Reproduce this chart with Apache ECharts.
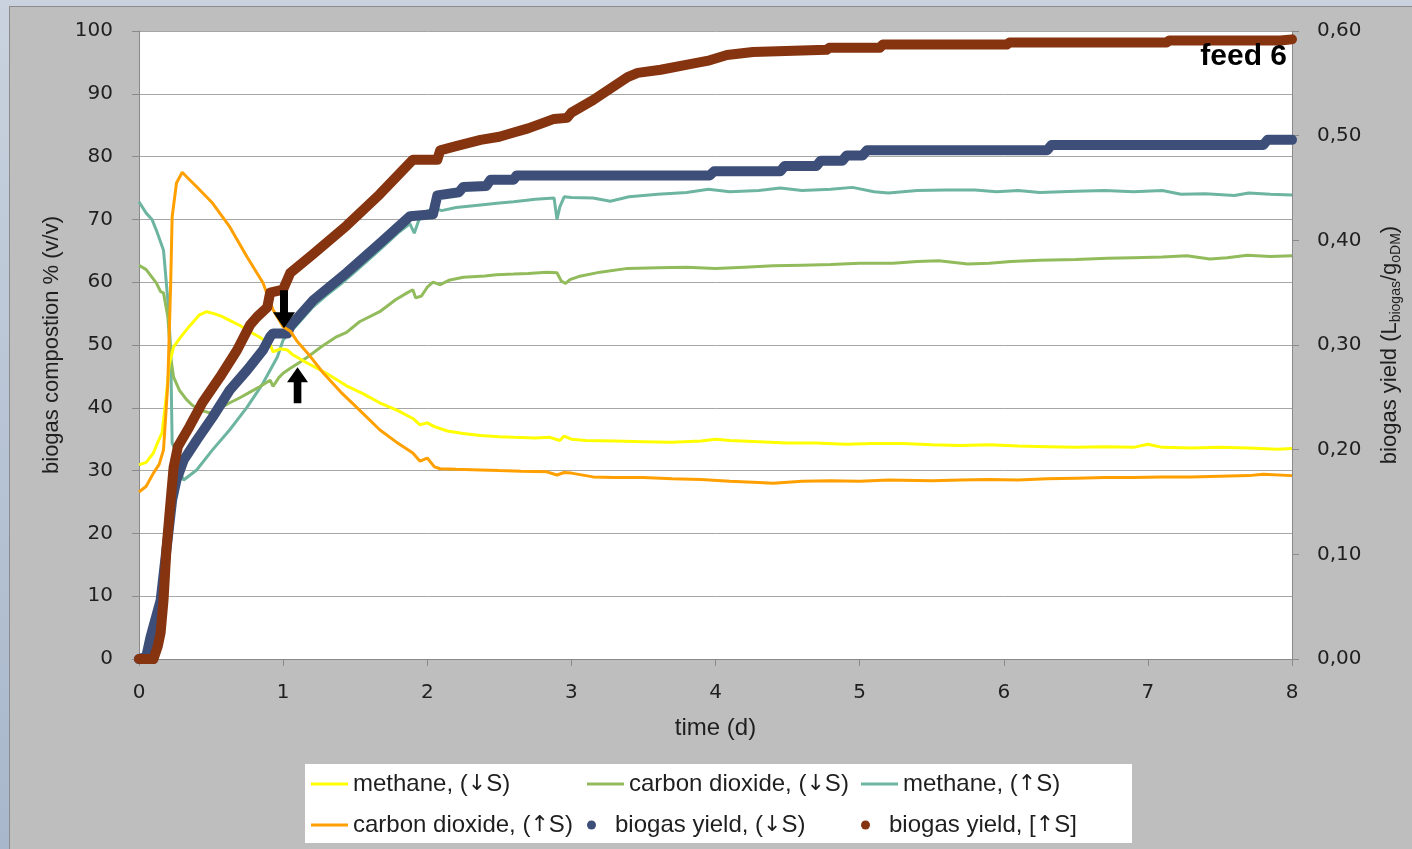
<!DOCTYPE html>
<html>
<head>
<meta charset="utf-8">
<script src="https://cdn.jsdelivr.net/npm/echarts@6/dist/echarts.min.js"></script>
<style>
  html, body { margin: 0; padding: 0; width: 1412px; height: 849px; overflow: hidden;
    background: linear-gradient(180deg, #c9d2de 0%, #b6c3d4 55%, #a8b7cb 100%); }
  #panel { position: absolute; left: 9px; top: 6px; right: 0; bottom: 0; background: #bebebe;
    border-left: 1px solid #8c8c8c; border-top: 1px solid #8c8c8c; }
  #chart { position: absolute; left: 0; top: 0; width: 1412px; height: 849px; }
</style>
</head>
<body>
<div id="panel"></div>
<div id="chart"></div>
<script>
// time (d) / value pairs for each measured series
const methaneDown = [[0,30.9],[0.05,31.3],[0.1,32.8],[0.13,34.5],[0.16,36],[0.19,42],[0.21,47],[0.24,49.7],[0.29,51.3],[0.35,53],
  [0.42,54.8],[0.47,55.3],[0.52,55],[0.57,54.6],[0.64,53.8],[0.7,53.1],[0.77,52.1],[0.84,51.2],[0.91,50.1],[0.93,48.9],
  [0.98,49.4],[1.03,49.2],[1.07,48.4],[1.17,47.1],[1.3,45.5],[1.44,43.5],[1.55,42.3],[1.67,40.8],[1.8,39.5],[1.9,38.3],
  [1.95,37.3],[2.0,37.6],[2.05,37.0],[2.14,36.3],[2.25,35.9],[2.37,35.6],[2.5,35.4],[2.6,35.3],[2.75,35.2],[2.85,35.3],
  [2.92,34.8],[2.95,35.5],[3.0,35.0],[3.1,34.8],[3.3,34.7],[3.5,34.6],[3.7,34.5],[3.9,34.7],[4.0,35.0],[4.1,34.8],
  [4.3,34.6],[4.5,34.4],[4.7,34.4],[4.9,34.2],[5.1,34.3],[5.3,34.3],[5.5,34.1],[5.7,34.0],[5.9,34.1],[6.1,33.9],
  [6.3,33.8],[6.5,33.7],[6.7,33.8],[6.9,33.7],[7.0,34.2],[7.1,33.7],[7.3,33.6],[7.5,33.7],[7.7,33.6],[7.9,33.4],[8.0,33.5]];

const co2Down = [[0,62.7],[0.05,62.0],[0.1,60.5],[0.12,59.9],[0.15,58.5],[0.17,58.3],[0.2,54.5],[0.22,48],[0.24,44.9],[0.28,42.8],
  [0.33,41.3],[0.37,40.4],[0.43,39.6],[0.49,39.2],[0.56,39.9],[0.63,40.8],[0.7,41.6],[0.77,42.5],[0.84,43.4],[0.91,44.4],
  [0.93,43.4],[0.97,44.8],[1.0,45.5],[1.05,46.3],[1.1,47.0],[1.17,48.1],[1.27,49.8],[1.37,51.3],[1.44,52.0],[1.53,53.7],
  [1.67,55.3],[1.78,57.2],[1.86,58.3],[1.9,58.8],[1.92,57.5],[1.96,57.8],[2.0,59.2],[2.04,60.0],[2.09,59.6],[2.15,60.3],
  [2.25,60.8],[2.4,61.0],[2.48,61.2],[2.6,61.3],[2.7,61.4],[2.83,61.6],[2.9,61.5],[2.93,60.2],[2.96,59.8],[2.99,60.4],
  [3.05,60.9],[3.2,61.6],[3.39,62.2],[3.6,62.3],[3.8,62.4],[4.0,62.2],[4.2,62.4],[4.4,62.6],[4.6,62.7],[4.8,62.8],
  [5.0,63.0],[5.23,63.0],[5.4,63.3],[5.55,63.4],[5.75,62.9],[5.9,63.0],[6.05,63.3],[6.25,63.5],[6.5,63.6],[6.72,63.8],
  [6.9,63.9],[7.1,64.0],[7.27,64.2],[7.43,63.7],[7.55,63.9],[7.69,64.3],[7.85,64.1],[8.0,64.2]];

const methaneUp = [[0,72.8],[0.05,71.0],[0.09,70.0],[0.12,68.3],[0.17,65.1],[0.2,57.2],[0.22,49.2],[0.23,34.4],[0.26,32.8],[0.28,30.0],
  [0.31,28.5],[0.4,30.1],[0.51,33.3],[0.63,36.5],[0.75,40.1],[0.86,43.9],[0.96,48.1],[1.0,50.8],[1.1,53.3],[1.2,55.9],
  [1.3,57.9],[1.4,59.7],[1.5,61.7],[1.6,63.7],[1.7,65.8],[1.8,67.9],[1.88,69.3],[1.91,67.8],[1.94,69.8],[1.97,71.0],
  [2.0,71.3],[2.05,71.8],[2.1,71.4],[2.2,71.9],[2.37,72.3],[2.5,72.6],[2.6,72.8],[2.75,73.2],[2.88,73.4],[2.9,70.0],
  [2.92,72.0],[2.95,73.6],[3.0,73.5],[3.15,73.4],[3.27,72.9],[3.4,73.6],[3.6,74.0],[3.8,74.3],[3.95,74.8],[4.1,74.4],
  [4.3,74.6],[4.45,75.0],[4.6,74.6],[4.8,74.8],[4.95,75.1],[5.1,74.4],[5.2,74.2],[5.4,74.6],[5.6,74.7],[5.8,74.7],
  [5.95,74.4],[6.1,74.6],[6.25,74.3],[6.5,74.5],[6.7,74.6],[6.9,74.4],[7.1,74.6],[7.23,74.0],[7.4,74.1],[7.6,73.8],
  [7.7,74.2],[7.85,74.0],[8.0,73.9]];

const co2Up = [[0,26.6],[0.05,27.5],[0.1,29.6],[0.14,31.0],[0.17,33.3],[0.2,43.9],[0.22,60.0],[0.23,70.4],[0.26,75.8],[0.3,77.5],
  [0.33,76.8],[0.4,75.2],[0.51,72.6],[0.63,68.8],[0.75,64.0],[0.86,59.9],[0.93,55.6],[1.0,52.9],[1.05,52.2],[1.1,50.5],
  [1.17,48.7],[1.28,45.5],[1.4,42.5],[1.5,40.3],[1.67,36.5],[1.8,34.3],[1.9,32.8],[1.95,31.5],[2.0,32.0],[2.05,30.6],
  [2.09,30.3],[2.2,30.2],[2.37,30.1],[2.5,30.0],[2.65,29.9],[2.83,29.8],[2.9,29.3],[2.95,29.7],[3.0,29.6],[3.15,29.0],
  [3.3,28.9],[3.5,28.9],[3.7,28.7],[3.9,28.6],[4.1,28.3],[4.3,28.1],[4.4,28.0],[4.6,28.3],[4.8,28.4],[5.0,28.3],
  [5.2,28.5],[5.5,28.4],[5.7,28.5],[5.9,28.6],[6.1,28.5],[6.3,28.7],[6.5,28.8],[6.7,28.9],[6.9,28.9],[7.1,29.0],
  [7.3,29.0],[7.5,29.1],[7.7,29.2],[7.8,29.4],[8.0,29.2]];

// cumulative biogas yield, L_biogas / g_oDM
const yieldDown = [[0,0],[0.05,0.002],[0.08,0.021],[0.15,0.056],[0.19,0.104],[0.23,0.152],[0.26,0.171],[0.31,0.19],[0.4,0.209],
  [0.51,0.231],[0.63,0.257],[0.75,0.276],[0.86,0.295],[0.91,0.308],[0.93,0.311],[1.03,0.311],[1.05,0.318],[1.21,0.343],
  [1.44,0.369],[1.67,0.397],[1.88,0.423],[2.04,0.425],[2.07,0.443],[2.22,0.446],[2.25,0.451],[2.41,0.452],[2.44,0.458],
  [2.6,0.458],[2.62,0.462],[3.96,0.462],[3.99,0.466],[4.45,0.466],[4.48,0.471],[4.7,0.471],[4.73,0.476],[4.88,0.476],
  [4.91,0.481],[5.02,0.481],[5.05,0.486],[6.3,0.486],[6.33,0.491],[7.8,0.491],[7.83,0.496],[8.0,0.496]];

const yieldUp = [[0,0],[0.1,0],[0.13,0.012],[0.15,0.025],[0.17,0.056],[0.19,0.104],[0.22,0.152],[0.24,0.183],[0.27,0.203],
  [0.35,0.222],[0.44,0.245],[0.56,0.269],[0.68,0.295],[0.77,0.319],[0.82,0.327],[0.89,0.336],[0.91,0.35],[1.0,0.353],
  [1.05,0.369],[1.21,0.387],[1.44,0.414],[1.67,0.444],[1.9,0.477],[2.07,0.477],[2.09,0.486],[2.2,0.49],[2.37,0.496],
  [2.5,0.499],[2.6,0.503],[2.7,0.507],[2.8,0.512],[2.88,0.516],[2.97,0.517],[3.0,0.522],[3.15,0.534],[3.39,0.556],
  [3.46,0.56],[3.62,0.563],[3.85,0.569],[3.96,0.572],[4.08,0.577],[4.26,0.58],[4.77,0.582],[4.79,0.584],[5.14,0.584],
  [5.16,0.587],[6.02,0.587],[6.04,0.589],[7.13,0.589],[7.15,0.591],[7.92,0.591],[8.0,0.592]];

// arrow markers: [time, composition %]
const arrowDownAt = [1.006, 55.7];
const arrowUpAt = [1.10, 43.6];

const names = {
  mDown: 'methane, (\u2193S)',
  cDown: 'carbon dioxide, (\u2193S)',
  mUp: 'methane, (\u2191S)',
  cUp: 'carbon dioxide, (\u2191S)',
  yDown: 'biogas yield, (\u2193S)',
  yUp: 'biogas yield, [\u2191S]'
};

const colors = {
  mDown: '#ffff00', cDown: '#92bb5c', mUp: '#6db5a0', cUp: '#ffa000', yDown: '#3d4f79', yUp: '#86330f'
};

const TXT = '#1f1f1f';
const AXIS = '#8a8a8a';
const TICKFONT = 'DejaVu Sans';
const LABFONT = 'Liberation Sans';

function compLine(key, data) {
  return {
    name: names[key], type: 'line', data: data, yAxisIndex: 0,
    symbol: 'none', smooth: false,
    lineStyle: { width: 3, color: colors[key] },
    itemStyle: { color: colors[key] }
  };
}
function yieldLine(key, data) {
  return {
    name: names[key], type: 'line', data: data, yAxisIndex: 1,
    symbol: 'none', smooth: false, clip: false,
    lineStyle: { width: 10, color: colors[key], cap: 'round', join: 'round' },
    itemStyle: { color: colors[key] }
  };
}
function legendItem(key, left, top, dot) {
  return {
    data: [{ name: names[key], icon: dot ? 'circle' : 'rect' }],
    left: left, top: top, padding: 0, itemGap: 0,
    itemWidth: 37, itemHeight: dot ? 9 : 3,
    selectedMode: false,
    // the arrows are set in a wider face than the rest of the entry
    formatter: n => n.replace(/([\u2191\u2193])/g, '{ar|$1}'),
    textStyle: {
      fontFamily: LABFONT, fontSize: 24, color: TXT, lineHeight: 24,
      rich: { ar: { fontFamily: 'DejaVu Sans', fontSize: 22, color: TXT, lineHeight: 24 } }
    }
  };
}

const chart = echarts.init(document.getElementById('chart'), null, { renderer: 'canvas' });
chart.setOption({
  animation: false,
  backgroundColor: 'transparent',
  title: {
    text: 'feed 6', right: 125, top: 42, padding: 0,
    textStyle: { fontFamily: LABFONT, fontWeight: 'bold', fontSize: 30, color: '#000' }
  },
  graphic: [{
    type: 'rect', shape: { x: 305, y: 764, width: 827, height: 79 },
    style: { fill: '#ffffff' }, silent: true
  }],
  legend: [
    legendItem('mDown', 311, 772, false),
    legendItem('cUp', 311, 813, false),
    legendItem('cDown', 587, 772, false),
    legendItem('yDown', 587, 813, true),
    legendItem('mUp', 861, 772, false),
    legendItem('yUp', 861, 813, true)
  ],
  grid: { left: 139, right: 120, top: 31, bottom: 190, show: true, backgroundColor: '#ffffff', borderWidth: 0 },
  xAxis: {
    type: 'value', min: 0, max: 8, interval: 1,
    axisLine: { show: true, onZero: false, lineStyle: { color: AXIS, width: 1 } },
    axisTick: { show: true, length: 7, lineStyle: { color: AXIS } },
    axisLabel: { fontFamily: TICKFONT, fontSize: 20, color: TXT, margin: 24 },
    splitLine: { show: false },
    name: 'time (d)', nameLocation: 'middle', nameGap: 57,
    nameTextStyle: { fontFamily: LABFONT, fontSize: 24, color: TXT }
  },
  yAxis: [{
    type: 'value', position: 'left', min: 0, max: 100, interval: 10,
    axisLine: { show: true, lineStyle: { color: AXIS, width: 1 } },
    axisTick: { show: true, length: 7, lineStyle: { color: AXIS } },
    axisLabel: { fontFamily: TICKFONT, fontSize: 20, color: TXT, margin: 26 },
    splitLine: { show: true, lineStyle: { color: '#a6a6a6', width: 1 } },
    name: 'biogas compostion % (v/v)', nameLocation: 'middle', nameGap: 76, nameRotate: 90,
    nameTextStyle: { fontFamily: LABFONT, fontSize: 22, color: TXT }
  }, {
    type: 'value', position: 'right', min: 0, max: 0.6, interval: 0.1,
    axisLine: { show: true, lineStyle: { color: AXIS, width: 1 } },
    axisTick: { show: true, length: 7, lineStyle: { color: AXIS } },
    axisLabel: { fontFamily: TICKFONT, fontSize: 20, color: TXT, margin: 25,
      formatter: v => v.toFixed(2).replace('.', ',') },
    splitLine: { show: false },
    name: '{a|biogas yield (L}{s|biogas}{a|/g}{s|oDM}{a|)}',
    nameLocation: 'middle', nameGap: 85, nameRotate: 90,
    nameTextStyle: {
      rich: {
        a: { fontFamily: LABFONT, fontSize: 22, color: TXT, lineHeight: 26 },
        s: { fontFamily: LABFONT, fontSize: 14, color: TXT, lineHeight: 14, verticalAlign: 'bottom' }
      }
    }
  }],
  series: [
    compLine('mUp', methaneUp),
    compLine('cDown', co2Down),
    compLine('mDown', methaneDown),
    yieldLine('yDown', yieldDown),
    compLine('cUp', co2Up),
    yieldLine('yUp', yieldUp),
    {
      name: 'arrows', type: 'scatter', yAxisIndex: 0, data: [], z: 10, silent: true,
      markPoint: {
        silent: true,
        label: { show: false },
        itemStyle: { color: '#000' },
        data: [
          { coord: arrowDownAt, symbol: 'path://M7,0 L15,0 L15,22 L22,22 L11,38 L0,22 L7,22 Z', symbolSize: [22, 38] },
          { coord: arrowUpAt, symbol: 'path://M11,0 L22,16 L15,16 L15,38 L7,38 L7,16 L0,16 Z', symbolSize: [21, 36] }
        ]
      }
    }
  ]
});
</script>
</body>
</html>
